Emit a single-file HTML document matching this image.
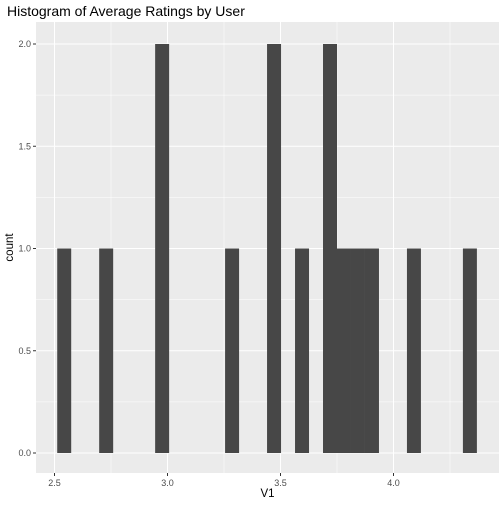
<!DOCTYPE html>
<html><head><meta charset="utf-8"><style>
body{margin:0;background:#fff;font-family:"Liberation Sans",sans-serif}
</style></head><body>
<svg width="504" height="504" id="c" xmlns="http://www.w3.org/2000/svg">
<text x="7" y="16" font-size="14" fill="#000">Histogram of Average Ratings by User</text>
</svg>
<script>
const binStart = 2.512;
const binWidth = 0.0619;
const binCounts = [1,0,0,1,0,0,0,2,0,0,0,0,1,0,0,2,0,1,0,2,1,1,1,0,0,1,0,0,0,1];
const xTicks = [2.5,3.0,3.5,4.0];
const xTickLabels = ["2.5","3.0","3.5","4.0"];
const yTicks = [0,0.5,1,1.5,2];
const yTickLabels = ["0.0","0.5","1.0","1.5","2.0"];
const svg=document.getElementById('c');
const NS='http://www.w3.org/2000/svg';
const L=36,R=499,T=22,B=473;
const sx=v=>54.5+(v-2.5)*226;
const sy=v=>453-v*204.5;
function mk(t,a,p){const e=document.createElementNS(NS,t);for(const k in a)e.setAttribute(k,a[k]);(p||svg).appendChild(e);return e;}
const panel=mk('rect',{x:L,y:T,width:R-L,height:B-T,fill:'#ebebeb'});


for(let i=0;i<xTicks.length;i++){const v=xTicks[i]+0.25;const x=sx(v);if(x<R)mk('line',{x1:x,x2:x,y1:T,y2:B,stroke:'#fff','stroke-width':0.5});}
const xm=sx(2.25);if(xm>L)mk('line',{x1:xm,x2:xm,y1:T,y2:B,stroke:'#fff','stroke-width':0.5});
for(let i=0;i<yTicks.length-1;i++){const y=sy(yTicks[i]+0.25);mk('line',{x1:L,x2:R,y1:y,y2:y,stroke:'#fff','stroke-width':0.5});}
xTicks.forEach(v=>{const x=sx(v);mk('line',{x1:x,x2:x,y1:T,y2:B,stroke:'#fff','stroke-width':1});});
yTicks.forEach(v=>{const y=sy(v);mk('line',{x1:L,x2:R,y1:y,y2:y,stroke:'#fff','stroke-width':1});});
binCounts.forEach((c,i)=>{if(!c)return;const x0=sx(binStart+i*binWidth),x1=sx(binStart+(i+1)*binWidth);
const r=mk('rect',{x:x0,y:sy(c),width:x1-x0,height:sy(0)-sy(c),fill:'#474747'});

});
xTicks.forEach((v,i)=>{const x=sx(v);mk('line',{x1:x,x2:x,y1:B,y2:B+3,stroke:'#333'});
const t=mk('text',{x:x,y:B+13,'font-size':9,fill:'#4d4d4d','text-anchor':'middle'});t.textContent=xTickLabels[i];

});
yTicks.forEach((v,i)=>{const y=sy(v);mk('line',{x1:L-3,x2:L,y1:y,y2:y,stroke:'#333'});
const t=mk('text',{x:L-5,y:y+3,'font-size':9,fill:'#4d4d4d','text-anchor':'end'});t.textContent=yTickLabels[i];

});
const xl=mk('text',{x:(L+R)/2,y:497,'font-size':11.5,fill:'#000','text-anchor':'middle'});xl.textContent='V1';


const yl=mk('text',{x:0,y:0,'font-size':11.5,fill:'#000','text-anchor':'middle',transform:`translate(13,${(T+B)/2}) rotate(-90)`});yl.textContent='count';


</script>
</body></html>
